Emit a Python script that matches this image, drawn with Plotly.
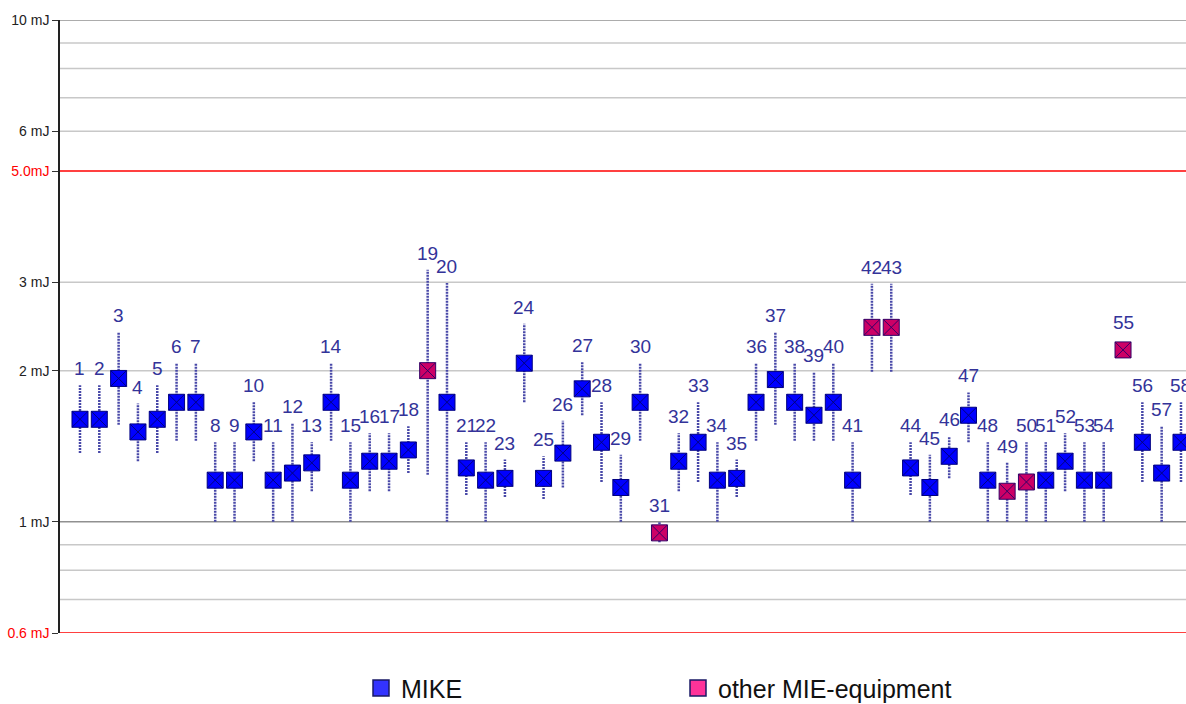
import math
import plotly.graph_objects as go

# Measured ignition energy per test (mJ) with the lower/upper bounds of each result
test_no = list(range(1, 59))
energy = [1.60, 1.60, 1.93, 1.51, 1.60, 1.73, 1.73, 1.21, 1.21, 1.51,
          1.21, 1.25, 1.31, 1.73, 1.21, 1.32, 1.32, 1.39, 2.00, 1.73,
          1.28, 1.21, 1.22, 2.07, 1.22, 1.37, 1.84, 1.44, 1.17, 1.73,
          0.95, 1.32, 1.44, 1.21, 1.22, 1.73, 1.92, 1.73, 1.63, 1.73,
          1.21, 2.44, 2.44, 1.28, 1.17, 1.35, 1.63, 1.21, 1.15, 1.20,
          1.21, 1.32, 1.21, 1.21, 2.20, 1.44, 1.25, 1.44]
upper = [1.87, 1.87, 2.39, 1.72, 1.87, 2.07, 2.07, 1.44, 1.44, 1.73,
         1.44, 1.57, 1.44, 2.07, 1.44, 1.50, 1.50, 1.55, 3.18, 2.99,
         1.44, 1.44, 1.33, 2.48, 1.35, 1.59, 2.08, 1.73, 1.36, 2.07,
         1.00, 1.50, 1.73, 1.44, 1.33, 2.07, 2.39, 2.07, 1.99, 2.07,
         1.44, 2.98, 2.98, 1.44, 1.36, 1.48, 1.81, 1.44, 1.31, 1.44,
         1.44, 1.50, 1.44, 1.44, 2.20, 1.73, 1.55, 1.73]
lower = [1.37, 1.37, 1.56, 1.32, 1.37, 1.45, 1.45, 1.00, 1.00, 1.32,
         1.00, 1.00, 1.15, 1.45, 1.00, 1.15, 1.15, 1.25, 1.24, 1.00,
         1.13, 1.00, 1.12, 1.73, 1.11, 1.17, 1.63, 1.20, 1.00, 1.45,
         0.91, 1.15, 1.20, 1.00, 1.12, 1.45, 1.56, 1.45, 1.45, 1.45,
         1.00, 1.99, 1.99, 1.13, 1.00, 1.22, 1.44, 1.00, 1.00, 1.00,
         1.00, 1.15, 1.00, 1.00, 2.20, 1.20, 1.00, 1.20]
other_equipment = [19, 31, 42, 43, 49, 50, 55]

tick_vals = [0.6, 1, 2, 3, 5, 6, 10]
tick_text = ["<span style='color:#ff0000'>0.6 mJ</span>", "1 mJ", "2 mJ", "3 mJ",
             "<span style='color:#ff0000'>5.0mJ</span>", "6 mJ", "10 mJ"]
grid_light = [0.7, 0.8, 0.9, 2, 3, 6, 7, 8, 9]
grid_dark = [1, 10]
limit_lines = [0.6, 5.0]

fig = go.Figure()

# Ranges drawn as vertical dotted strokes
ex, ey = [], []
for n, lo, hi in zip(test_no, lower, upper):
    if hi > lo:
        ex += [n, n, None]
        ey += [lo, hi, None]
fig.add_trace(go.Scatter(x=ex, y=ey, mode="lines", hoverinfo="skip", showlegend=False,
                         line=dict(color="#4848a8", width=2.5, dash="2px,1px")))

mike_x = [n for n in test_no if n not in other_equipment]
mike_y = [e for n, e in zip(test_no, energy) if n not in other_equipment]
oth_x = [n for n in test_no if n in other_equipment]
oth_y = [e for n, e in zip(test_no, energy) if n in other_equipment]

fig.add_trace(go.Scatter(x=mike_x, y=mike_y, mode="markers", showlegend=False,
                         marker=dict(symbol="square-x", size=16, color="#0000ff",
                                     line=dict(color="#000080", width=1))))
fig.add_trace(go.Scatter(x=oth_x, y=oth_y, mode="markers", showlegend=False,
                         marker=dict(symbol="square-x", size=16, color="#cc0066",
                                     line=dict(color="#330066", width=1))))

# Legend entries
fig.add_trace(go.Scatter(x=[None], y=[None], mode="markers", name="MIKE",
                         marker=dict(symbol="square", size=18, color="#3333ff",
                                     line=dict(color="#1a1a66", width=1.5))))
fig.add_trace(go.Scatter(x=[None], y=[None], mode="markers", name="other MIE-equipment",
                         marker=dict(symbol="square", size=18, color="#ff3399",
                                     line=dict(color="#1a1a66", width=1.5))))

# Test number above each range
annotations = []
for n, e, hi, lo in zip(test_no, energy, upper, lower):
    has_range = hi > lo
    annotations.append(dict(x=n, y=math.log10(hi if has_range else e), xref="x", yref="y",
                            text=str(n), showarrow=False, yanchor="bottom",
                            yshift=4 if has_range else 15,
                            font=dict(family="Liberation Sans, Arial", size=19, color="#333399")))

shapes = []
for v in grid_light:
    shapes.append(dict(type="line", xref="paper", x0=0, x1=1, yref="y", y0=v, y1=v,
                       line=dict(color="#c8c8c8", width=1.5), layer="below"))
for v in grid_dark:
    shapes.append(dict(type="line", xref="paper", x0=0, x1=1, yref="y", y0=v, y1=v,
                       line=dict(color="#909090", width=1.5), layer="below"))
for v in limit_lines:
    shapes.append(dict(type="line", xref="paper", x0=0, x1=1, yref="y", y0=v, y1=v,
                       line=dict(color="#ff0000", width=1.5), layer="below"))

fig.update_layout(
    width=1186, height=704,
    margin=dict(l=60, r=0, t=20, b=71, autoexpand=False),
    paper_bgcolor="white", plot_bgcolor="white",
    showlegend=True,
    legend=dict(orientation="h", x=(361 - 60) / 1126, xanchor="left",
                y=-0.09, yanchor="middle", entrywidth=272, entrywidthmode="pixels",
                font=dict(family="Liberation Sans, Arial", size=25, color="#111111"),
                itemsizing="trace"),
    xaxis=dict(range=[-0.035, 58.26], visible=False, showgrid=False, zeroline=False),
    yaxis=dict(type="log", range=[math.log10(0.6), 1], showgrid=False, zeroline=False,
               tickvals=tick_vals, ticktext=tick_text, ticks="outside", ticklen=6,
               tickcolor="#333333", showline=True, linecolor="#222222", linewidth=1.5,
               tickfont=dict(family="Liberation Sans, Arial", size=14, color="#222222")),
    shapes=shapes,
    annotations=annotations,
)

fig.write_html("out.html")
